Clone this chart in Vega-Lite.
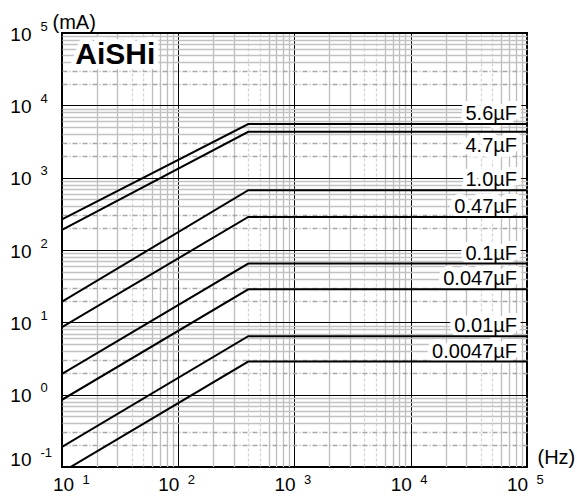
{
  "$schema": "https://vega.github.io/schema/vega-lite/v6.json",
  "width": 465,
  "height": 434,
  "autosize": {"type": "none"},
  "padding": {"left": 62, "top": 33, "right": 50, "bottom": 31},
  "background": "white",
  "datasets": {
    "curves": [
      {"cap": "5.6µF", "f": 10, "i": 266},
      {"cap": "5.6µF", "f": 400, "i": 5510},
      {"cap": "5.6µF", "f": 100000, "i": 5510},
      {"cap": "4.7µF", "f": 10, "i": 190},
      {"cap": "4.7µF", "f": 400, "i": 4300},
      {"cap": "4.7µF", "f": 100000, "i": 4300},
      {"cap": "1.0µF", "f": 10, "i": 19.3},
      {"cap": "1.0µF", "f": 400, "i": 670},
      {"cap": "1.0µF", "f": 100000, "i": 670},
      {"cap": "0.47µF", "f": 10, "i": 8.6},
      {"cap": "0.47µF", "f": 400, "i": 286},
      {"cap": "0.47µF", "f": 100000, "i": 286},
      {"cap": "0.1µF", "f": 10, "i": 1.94},
      {"cap": "0.1µF", "f": 400, "i": 65},
      {"cap": "0.1µF", "f": 100000, "i": 65},
      {"cap": "0.047µF", "f": 10, "i": 0.85},
      {"cap": "0.047µF", "f": 400, "i": 28.6},
      {"cap": "0.047µF", "f": 100000, "i": 28.6},
      {"cap": "0.01µF", "f": 10, "i": 0.19},
      {"cap": "0.01µF", "f": 400, "i": 6.44},
      {"cap": "0.01µF", "f": 100000, "i": 6.44},
      {"cap": "0.0047µF", "f": 10, "i": 0.085},
      {"cap": "0.0047µF", "f": 400, "i": 2.87},
      {"cap": "0.0047µF", "f": 100000, "i": 2.87}
    ]
  },
  "data": {"name": "curves"},
  "layer": [
    {
      "transform": [{"filter": "datum.f == 100000 && datum.cap != '4.7µF'"}],
      "mark": {"type": "text", "align": "right", "baseline": "bottom", "dx": -10, "font": "Liberation Sans", "fontSize": 20, "fill": "white", "stroke": "white", "strokeWidth": 10, "strokeJoin": "round"},
      "encoding": {
        "x": {"datum": 100000, "type": "quantitative", "scale": {"type": "log", "domain": [10, 100000], "nice": false},
          "axis": {"orient": "bottom", "grid": true, "labels": false, "title": null,
            "values": [20, 30, 40, 50, 60, 70, 80, 90, 200, 300, 400, 500, 600, 700, 800, 900, 2000, 3000, 4000, 5000, 6000, 7000, 8000, 9000, 20000, 30000, 40000, 50000, 60000, 70000, 80000, 90000],
            "gridColor": {"condition": {"test": "datum.value / pow(10, floor(log(datum.value) / LN10 + 0.000001)) > 3.5 && datum.value / pow(10, floor(log(datum.value) / LN10 + 0.000001)) < 5.5", "value": "#d4d4d4"}, "value": "#bdbdbd"},
            "gridDash": {"condition": {"test": "datum.value / pow(10, floor(log(datum.value) / LN10 + 0.000001)) > 3.5 && datum.value / pow(10, floor(log(datum.value) / LN10 + 0.000001)) < 5.5", "value": [3, 2]}, "value": []},
            "gridWidth": 1.3}},
        "y": {"field": "i", "type": "quantitative", "scale": {"type": "log", "domain": [0.1, 100000], "nice": false},
          "axis": {"orient": "left", "grid": true, "labels": false, "title": null,
            "values": [0.2, 0.3, 0.4, 0.5, 0.6, 0.7, 0.8, 0.9, 2, 3, 4, 5, 6, 7, 8, 9, 20, 30, 40, 50, 60, 70, 80, 90, 200, 300, 400, 500, 600, 700, 800, 900, 2000, 3000, 4000, 5000, 6000, 7000, 8000, 9000, 20000, 30000, 40000, 50000, 60000, 70000, 80000, 90000],
            "gridColor": {"condition": {"test": "datum.value / pow(10, floor(log(datum.value) / LN10 + 0.000001)) < 3.5", "value": "#a8a8a8"}, "value": "#c2c2c2"},
            "gridDash": {"condition": {"test": "datum.value / pow(10, floor(log(datum.value) / LN10 + 0.000001)) < 3.5", "value": [5, 2, 1, 2]}, "value": []},
            "gridWidth": 1.3}},
        "text": {"field": "cap"}
      }
    },
    {
      "transform": [{"filter": "datum.f == 100000 && datum.cap == '4.7µF'"}],
      "mark": {"type": "text", "align": "right", "baseline": "top", "dx": -10, "dy": 4, "font": "Liberation Sans", "fontSize": 20, "fill": "white", "stroke": "white", "strokeWidth": 10, "strokeJoin": "round"},
      "encoding": {
        "x": {"datum": 100000, "type": "quantitative", "scale": {"type": "log", "domain": [10, 100000], "nice": false}, "axis": null},
        "y": {"field": "i", "type": "quantitative", "scale": {"type": "log", "domain": [0.1, 100000], "nice": false}, "axis": null},
        "text": {"field": "cap"}
      }
    },
    {
      "data": {"values": [{"brand": "AiSHi"}]},
      "mark": {"type": "text", "align": "left", "baseline": "top", "font": "Liberation Sans", "fontWeight": "bold", "fontSize": 30, "fill": "white", "stroke": "white", "strokeWidth": 10, "strokeJoin": "round"},
      "encoding": {
        "x": {"datum": 13, "type": "quantitative", "scale": {"type": "log", "domain": [10, 100000], "nice": false}, "axis": null},
        "y": {"datum": 80000, "type": "quantitative", "scale": {"type": "log", "domain": [0.1, 100000], "nice": false}, "axis": null},
        "text": {"field": "brand"}
      }
    },
    {
      "mark": {"type": "line", "color": "black", "strokeWidth": 2, "clip": true},
      "encoding": {
        "x": {"field": "f", "type": "quantitative", "scale": {"type": "log", "domain": [10, 100000], "nice": false},
          "axis": {"orient": "bottom", "values": [10, 100, 1000, 10000, 100000], "grid": true, "gridColor": "black", "gridWidth": 1,
            "labelExpr": "'10'", "labelFontSize": 19, "labelAlign": "center", "labelBaseline": "top", "labelPadding": 8, "labelFlush": false,
            "labelOffset": {"condition": {"test": "datum.value == 10", "value": 1}, "value": -10},
            "title": "(Hz)", "titleFontSize": 20, "titleAlign": "left", "titleBaseline": "top", "titleX": 475, "titleY": -20}},
        "y": {"field": "i", "type": "quantitative", "scale": {"type": "log", "domain": [0.1, 100000], "nice": false},
          "axis": {"orient": "left", "values": [0.1, 1, 10, 100, 1000, 10000, 100000], "grid": true, "gridColor": "black", "gridWidth": 1,
            "labelExpr": "'10'", "labelFontSize": 19, "labelAlign": "right", "labelBaseline": "middle", "labelPadding": 31, "labelFlush": false,
            "labelOffset": {"condition": {"test": "datum.value < 0.5", "value": -8}, "value": 1},
            "title": "(mA)", "titleFontSize": 20, "titleAngle": 0, "titleAlign": "left", "titleBaseline": "top", "titleX": -10, "titleY": -21}},
        "detail": {"field": "cap"},
        "order": {"field": "f"}
      }
    },
    {
      "transform": [{"filter": "datum.f == 100000 && datum.cap != '4.7µF'"}],
      "mark": {"type": "text", "align": "right", "baseline": "bottom", "dx": -10, "font": "Liberation Sans", "fontSize": 20, "color": "black"},
      "encoding": {
        "x": {"datum": 100000, "type": "quantitative", "scale": {"type": "log", "domain": [10, 100000], "nice": false},
          "axis": {"orient": "bottom", "values": [10, 100, 1000, 10000, 100000], "grid": false,
            "labelExpr": "'' + round(log(datum.value) / LN10)", "labelFontSize": 13, "labelAlign": "left", "labelBaseline": "top", "labelPadding": 6, "labelFlush": false,
            "labelOffset": {"condition": {"test": "datum.value == 10", "value": 20}, "value": 9},
            "title": null}},
        "y": {"field": "i", "type": "quantitative", "scale": {"type": "log", "domain": [0.1, 100000], "nice": false},
          "axis": {"orient": "left", "values": [0.1, 1, 10, 100, 1000, 10000, 100000], "grid": false,
            "labelExpr": "'' + round(log(datum.value) / LN10)", "labelFontSize": 13, "labelAlign": "left", "labelBaseline": "middle", "labelPadding": 22, "labelFlush": false,
            "labelOffset": {"condition": {"test": "datum.value < 0.5", "value": -15}, "value": -7},
            "title": null}},
        "text": {"field": "cap"}
      }
    },
    {
      "transform": [{"filter": "datum.f == 100000 && datum.cap == '4.7µF'"}],
      "mark": {"type": "text", "align": "right", "baseline": "top", "dx": -10, "dy": 4, "font": "Liberation Sans", "fontSize": 20, "color": "black"},
      "encoding": {
        "x": {"datum": 100000, "type": "quantitative", "scale": {"type": "log", "domain": [10, 100000], "nice": false}, "axis": null},
        "y": {"field": "i", "type": "quantitative", "scale": {"type": "log", "domain": [0.1, 100000], "nice": false}, "axis": null},
        "text": {"field": "cap"}
      }
    },
    {
      "data": {"values": [{"brand": "AiSHi"}]},
      "mark": {"type": "text", "align": "left", "baseline": "top", "font": "Liberation Sans", "fontWeight": "bold", "fontSize": 30, "color": "black"},
      "encoding": {
        "x": {"datum": 13, "type": "quantitative", "scale": {"type": "log", "domain": [10, 100000], "nice": false}, "axis": null},
        "y": {"datum": 80000, "type": "quantitative", "scale": {"type": "log", "domain": [0.1, 100000], "nice": false}, "axis": null},
        "text": {"field": "brand"}
      }
    }
  ],
  "resolve": {"axis": {"x": "independent", "y": "independent"}},
  "config": {
    "view": {"stroke": "black", "strokeWidth": 2},
    "axis": {"labelFont": "Liberation Sans", "titleFont": "Liberation Sans", "labelColor": "black", "titleColor": "black", "titleFontWeight": "normal", "domain": false, "ticks": false, "tickSize": 0}
  }
}
